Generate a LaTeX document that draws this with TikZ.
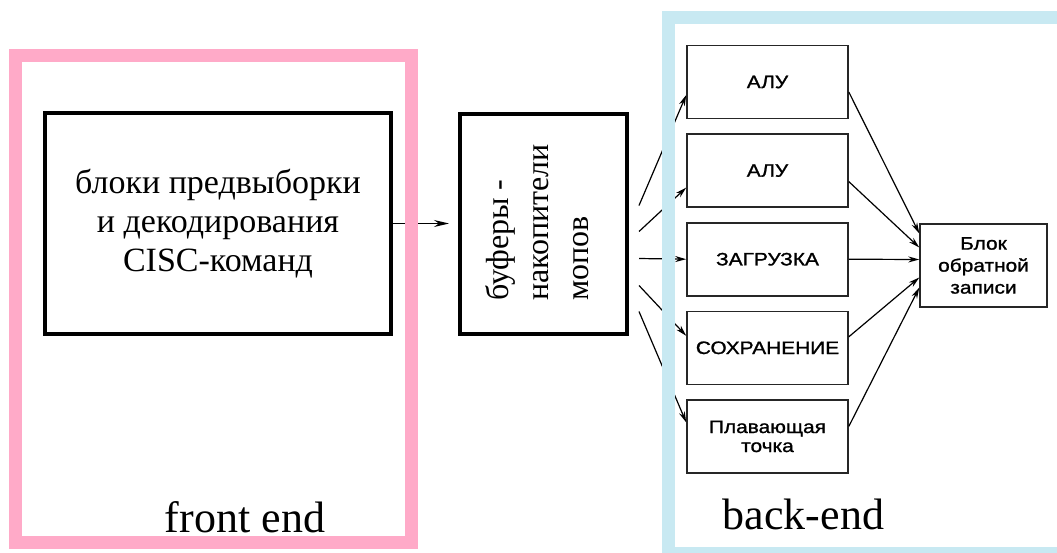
\documentclass[tikz,border=0pt]{standalone}
\usepackage{fontspec}
\setmainfont{Liberation Serif}
\newfontfamily\unitfont[FakeStretch=1.16,FakeBold=1.2]{Liberation Sans}
\usetikzlibrary{positioning}
\usetikzlibrary{arrows.meta}
\definecolor{frontpink}{RGB}{255,170,200}
\definecolor{backblue}{RGB}{200,233,242}
\tikzset{
	>={Stealth[length=11pt,width=6pt]},
	stage/.style={
		rectangle,
		draw=black, line width=4pt,
		align=center,
		inner sep=0pt},
	unit/.style={
		rectangle,
		draw=black!85, line width=1.6pt,
		minimum width=161pt,
		minimum height=73pt,
		align=center,
		font=\unitfont\fontsize{18}{19}\selectfont},
	line/.style={draw, line width=1.2pt, ->},
	zone/.style={line width=13pt},
	zonelabel/.style={anchor=base, font=\fontsize{44}{44}\selectfont},
}

\begin{document}
\begin{tikzpicture}
		[x=1pt,y=-1pt,node distance=14pt]
		\clip (0,0) rectangle (1057,552);
		% front end
		\node[stage, minimum width=346pt, minimum height=221pt,
			font=\fontsize{34}{39}\selectfont] (front) at (218,223.5)
			{блоки предвыборки\\и декодирования\\CISC-команд};
		\node[stage, minimum width=167pt, minimum height=220pt,
			right=65pt of front] (buf) {};
		\node[rotate=90, align=left, font=\fontsize{32}{40}\selectfont]
			at ([shift={(-6,-1)}]buf.center) {буферы -\\накопители\\мопов};
		
		% back end
		\node[unit] (alu1) at (767.5,82) {АЛУ};
		\node[unit, below=of alu1] (alu2) {АЛУ};
		\node[unit, below=of alu2] (load) {ЗАГРУЗКА};
		\node[unit, below=of load] (store) {СОХРАНЕНИЕ};
		\node[unit, below=of store] (fpu) {Плавающая\\точка};
		\node[unit, minimum width=127pt, minimum height=83pt, line width=1.4pt,
			font=\unitfont\fontsize{18}{22}\selectfont] (wb) at (983.5,265.5)
			{Блок\\обратной\\записи};
		
		\draw[line, -{Stealth[length=15pt,width=7pt]}, shorten >=9pt]
			(front.east) -- (front.east -| buf.west);
		\foreach \u/\s/\e in {alu1/-18/13, alu2/8/17, load/35/0, store/62/-12, fpu/88/-14}
			\draw[line] ([shift={(10,\s)}]buf.east) -- ([shift={(0,\e)}]\u.west);
		\foreach \u/\s/\e in {alu1/10/-32, alu2/11/-18, load/0/-6, store/-11/12, fpu/-10/22}
			\draw[line] ([shift={(0,\s)}]\u.east) -- ([shift={(0,\e)}]wb.west);
		
		% frames go over the connectors
		\draw[frontpink, zone] (15.5,55.5) rectangle (411,542.5);
		\draw[backblue, zone] (668.5,17) rectangle (1120,553.5);
		\node[zonelabel] (fe) at (245,532) {front end};
		\node[zonelabel] (be) at (803.5,529) {back-end};
		
\end{tikzpicture}
\end{document}
